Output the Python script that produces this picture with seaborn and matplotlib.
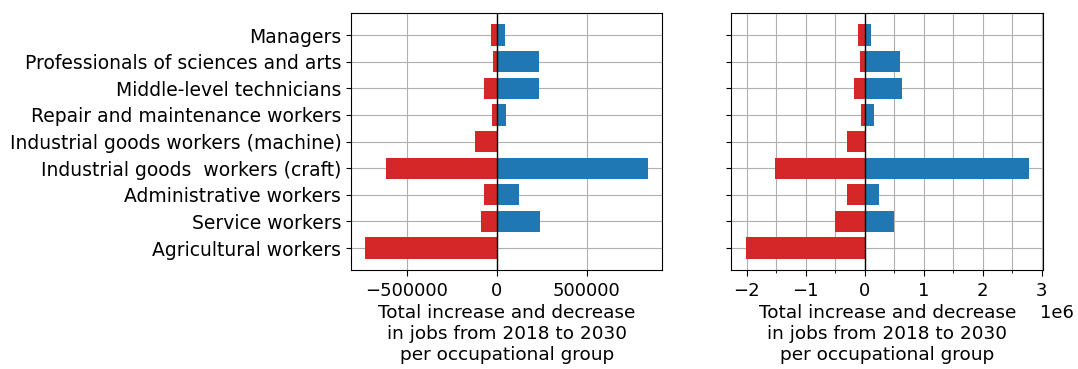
import matplotlib
matplotlib.use("Agg")
import matplotlib.pyplot as plt
from matplotlib.ticker import AutoMinorLocator, MultipleLocator
import pandas as pd
import seaborn as sns

groups = [
    "Managers",
    "Professionals of sciences and arts",
    "Middle-level technicians",
    "Repair and maintenance workers",
    "Industrial goods workers (machine)",
    "Industrial goods  workers (craft)",
    "Administrative workers",
    "Service workers",
    "Agricultural workers",
]

# Left panel: jobs lost / gained per group
left_decrease = [-33000, -22000, -72000, -28000, -122000, -617000, -72000, -89000, -733000]
left_increase = [44000, 233000, 233000, 50000, 0, 844000, 122000, 239000, 0]

# Right panel: jobs lost / gained per group
right_decrease = [-119000, -85000, -186000, -68000, -305000, -1526000, -305000, -508000, -2017000]
right_increase = [102000, 593000, 627000, 153000, 0, 2780000, 237000, 492000, 0]

RED = "#d62728"
BLUE = "#1f77b4"
XLABEL = "Total increase and decrease\nin jobs from 2018 to 2030\nper occupational group"

plt.rcParams["font.size"] = 13
plt.rcParams["font.family"] = ["DejaVu Sans"]

fig, axes = plt.subplots(1, 2, figsize=(10.78, 3.69), dpi=100, sharey=True)
fig.subplots_adjust(left=0.3256, right=0.9675, top=0.9656, bottom=0.267, wspace=0.2215)

panels = [
    (axes[0], left_decrease, left_increase, 5e5, False),
    (axes[1], right_decrease, right_increase, 1e6, True),
]

n = len(groups)
for ax, dec, inc, step, minor in panels:
    df = pd.DataFrame({"group": groups, "decrease": dec, "increase": inc})
    sns.barplot(data=df, y="group", x="increase", color=BLUE, saturation=1,
                orient="h", ax=ax, width=0.8)
    sns.barplot(data=df, y="group", x="decrease", color=RED, saturation=1,
                orient="h", ax=ax, width=0.8)
    ax.axvline(0, color="black", linewidth=1, zorder=3)
    ax.set_axisbelow(True)
    ax.xaxis.set_major_locator(MultipleLocator(step))
    ax.grid(True, which="major", color="#b0b0b0", linewidth=0.8)
    if minor:
        ax.xaxis.set_minor_locator(AutoMinorLocator(2))
        ax.grid(True, which="minor", axis="x", color="#b0b0b0", linewidth=0.8)
    ax.tick_params(axis="x", which="major", pad=4.5, length=4)
    ax.set_xlabel(XLABEL, fontsize=13.3, labelpad=3)
    ax.set_ylabel("")
    ax.margins(x=0.05)
    # 5% padding around the bar extents, as with plain barh autoscaling
    pad = 0.05 * (n - 1 + 0.8)
    ax.set_ylim(n - 1 + 0.4 + pad, -0.4 - pad)

axes[0].tick_params(axis="y", labelsize=13.5)
axes[1].tick_params(axis="y", labelleft=False)
offset = axes[1].xaxis.get_offset_text()
offset.set_horizontalalignment("left")
offset.set_x(0.99)

fig.savefig("out.png", dpi=100)
